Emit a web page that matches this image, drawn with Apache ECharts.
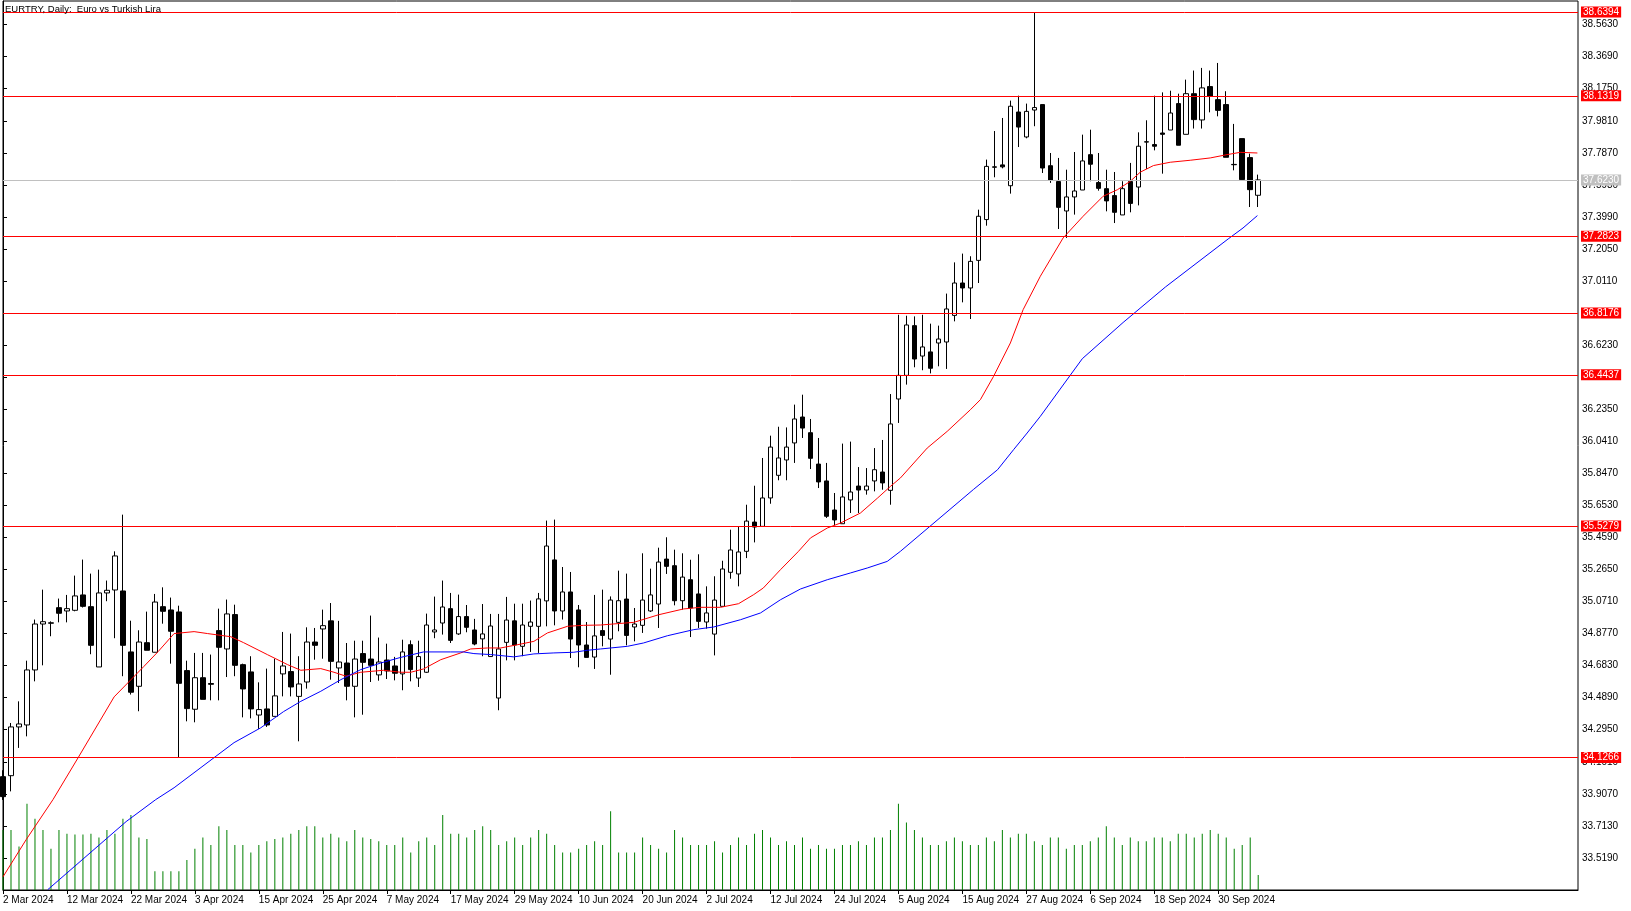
<!DOCTYPE html>
<html><head><meta charset="utf-8">
<script src="https://cdn.jsdelivr.net/npm/echarts@6/dist/echarts.min.js"></script>
<style>html,body{margin:0;padding:0;background:#fff;overflow:hidden}#c{width:1631px;height:911px}</style>
</head><body><div id="c"></div>
<script>
const titleText = 'EURTRY, Daily:  Euro vs Turkish Lira';
const tickLabels = ['2 Mar 2024','12 Mar 2024','22 Mar 2024','3 Apr 2024','15 Apr 2024','25 Apr 2024','7 May 2024','17 May 2024','29 May 2024','10 Jun 2024','20 Jun 2024','2 Jul 2024','12 Jul 2024','24 Jul 2024','5 Aug 2024','15 Aug 2024','27 Aug 2024','6 Sep 2024','18 Sep 2024','30 Sep 2024'];
const barsPerLabel = 8;
const totalSlots = 198;

const opens = [34.011,34.017,34.312,34.324,34.657,34.935,34.942,35.034,35.014,35.018,35.111,35.040,34.675,35.123,35.141,35.135,34.766,34.558,34.822,34.764,35.040,35.020,35.008,34.653,34.419,34.610,34.575,34.895,34.784,34.992,34.689,34.645,34.384,34.421,34.376,34.633,34.647,34.497,34.584,34.826,34.905,34.954,34.669,34.699,34.558,34.756,34.723,34.627,34.717,34.681,34.633,34.810,34.608,34.643,34.887,34.941,35.028,34.875,34.980,34.899,34.845,34.738,34.487,34.824,34.954,34.800,34.921,34.921,35.075,35.323,35.014,35.129,35.020,34.808,34.735,34.895,34.844,34.945,35.086,34.917,34.927,35.014,35.056,35.328,35.288,35.076,35.203,35.117,34.947,34.874,35.042,35.248,35.238,35.375,35.552,35.526,35.698,35.835,35.928,36.031,36.188,36.093,35.903,35.801,35.625,35.542,35.686,35.770,35.746,35.801,35.855,35.744,36.297,36.440,36.741,36.557,36.582,36.636,36.642,36.803,36.999,36.969,37.136,37.383,37.702,37.714,37.588,38.034,37.883,38.046,38.079,37.709,37.613,37.435,37.520,37.562,37.776,37.607,37.570,37.528,37.411,37.613,37.580,37.854,37.837,37.907,37.925,38.085,37.899,38.145,37.986,38.188,38.109,38.079,37.717,37.873,37.758,37.530];
const closes = [33.890,34.312,34.330,34.657,34.935,34.949,34.940,35.000,35.028,35.105,35.042,34.806,35.123,35.139,35.347,34.806,34.522,34.826,34.776,35.068,35.012,34.891,34.576,34.423,34.610,34.479,34.570,34.794,34.996,34.685,34.542,34.421,34.417,34.324,34.500,34.681,34.554,34.572,34.826,34.806,34.925,34.709,34.705,34.558,34.723,34.703,34.685,34.705,34.651,34.637,34.766,34.659,34.738,34.929,34.899,35.038,34.836,34.980,34.915,34.814,34.875,34.923,34.784,34.959,34.808,34.929,34.947,35.087,35.407,35.014,35.129,34.844,34.808,34.733,34.863,34.866,35.080,35.076,34.866,34.935,35.080,35.111,35.310,35.284,35.076,35.219,35.032,34.951,35.002,35.080,35.268,35.383,35.371,35.558,35.522,35.698,36.006,35.940,36.006,36.176,36.121,35.938,35.795,35.587,35.565,35.704,35.734,35.746,35.770,35.869,35.789,36.146,36.440,36.745,36.539,36.612,36.483,36.660,36.842,36.999,36.969,37.130,37.403,37.705,37.700,37.702,38.069,37.943,38.038,38.061,37.695,37.621,37.457,37.520,37.556,37.738,37.718,37.572,37.496,37.427,37.570,37.481,37.827,37.852,37.827,37.899,38.028,37.833,38.145,37.988,38.180,38.129,38.044,37.760,37.715,37.625,37.564,37.623];
const lows = [33.870,33.922,34.185,34.255,34.588,34.685,34.861,34.945,34.945,35.012,35.035,34.752,34.675,35.073,34.849,34.619,34.508,34.407,34.776,34.764,34.937,34.695,34.124,34.346,34.340,34.479,34.473,34.473,34.614,34.619,34.370,34.364,34.300,34.312,34.376,34.497,34.497,34.225,34.544,34.719,34.725,34.598,34.578,34.473,34.370,34.386,34.584,34.592,34.602,34.594,34.534,34.588,34.554,34.639,34.849,34.871,34.820,34.869,34.885,34.806,34.740,34.738,34.413,34.715,34.715,34.740,34.766,34.760,34.921,34.927,34.962,34.729,34.673,34.733,34.663,34.800,34.628,34.891,34.806,34.830,34.881,35.008,34.911,35.238,35.048,35.022,34.856,34.911,34.907,34.745,35.042,35.209,35.163,35.334,35.429,35.526,35.663,35.805,35.805,35.910,36.061,35.873,35.758,35.577,35.532,35.542,35.607,35.607,35.718,35.738,35.748,35.657,36.152,36.384,36.489,36.471,36.452,36.495,36.479,36.767,36.882,36.781,36.999,37.346,37.639,37.693,37.540,37.822,37.875,37.948,37.665,37.605,37.326,37.272,37.413,37.562,37.615,37.558,37.433,37.362,37.411,37.427,37.469,37.689,37.802,37.661,37.925,37.833,37.899,37.934,37.934,38.032,38.008,37.760,37.681,37.625,37.459,37.459];
const highs = [34.050,34.336,34.467,34.713,34.962,35.143,34.951,35.089,35.111,35.228,35.325,35.240,35.264,35.198,35.375,35.597,34.955,34.897,35.010,35.117,35.157,35.095,35.046,34.713,34.760,34.760,34.750,35.028,35.083,35.052,34.695,34.740,34.582,34.665,34.725,34.887,34.877,34.740,34.915,34.911,35.022,35.062,34.954,34.820,34.834,34.834,34.986,34.853,34.816,34.736,34.840,34.836,34.834,34.998,35.101,35.198,35.123,35.113,35.050,34.966,35.056,34.996,34.996,35.099,35.058,35.058,35.077,35.123,35.561,35.567,35.280,35.250,35.050,34.947,35.111,35.143,35.102,35.258,35.240,35.032,35.363,35.270,35.397,35.460,35.385,35.363,35.324,35.357,35.163,35.224,35.318,35.506,35.526,35.657,35.772,35.940,36.075,36.129,36.125,36.263,36.323,36.176,36.061,35.910,35.728,36.027,36.039,35.885,35.879,36.000,36.049,36.327,36.807,36.801,36.797,36.807,36.753,36.741,36.935,37.124,37.177,37.161,37.443,37.746,37.919,37.998,38.103,38.133,38.085,38.6394,38.079,37.786,37.756,37.685,37.792,37.897,37.927,37.786,37.685,37.671,37.615,37.726,37.911,37.984,38.133,38.153,38.163,38.145,38.230,38.285,38.301,38.285,38.331,38.160,37.962,37.873,37.782,37.655];
const volumes = [80,80,58,115,95,80,55,80,75,74,74,75,70,80,75,95,100,70,68,25,25,25,25,40,55,70,60,85,80,60,60,50,60,65,68,70,75,80,85,85,70,75,70,65,80,70,68,65,60,60,70,50,65,70,60,100,75,75,70,80,85,80,60,65,70,60,70,80,75,60,50,50,55,60,65,60,105,50,50,50,70,60,55,50,80,70,60,60,60,65,50,60,70,60,75,80,70,60,65,60,70,55,60,55,55,60,60,65,60,70,70,80,115,90,80,70,60,60,65,70,65,60,60,70,65,80,70,75,75,65,60,70,70,55,60,60,65,70,85,70,60,70,65,65,70,70,65,75,75,70,75,80,75,70,55,60,70,20];
const maRed = [[0,33.405],[2.9,33.630],[6.25,33.872],[9.4,34.126],[13.9,34.494],[17.6,34.677],[19.4,34.768],[21.4,34.877],[23.9,34.889],[25.6,34.877],[28.5,34.858],[30.1,34.822],[33.1,34.749],[35.6,34.689],[37.25,34.655],[39.75,34.665],[41.4,34.643],[42.9,34.619],[44.75,34.643],[47.6,34.655],[49.75,34.643],[51,34.643],[52.6,34.663],[54.75,34.719],[57.25,34.760],[58.5,34.784],[60.6,34.790],[62.25,34.790],[64.4,34.810],[66.4,34.830],[68.1,34.881],[70.6,34.921],[72.6,34.927],[74.75,34.929],[78.9,34.945],[82,34.991],[85.1,35.026],[87.25,35.036],[89.75,35.036],[92,35.058],[93.9,35.113],[95.1,35.153],[97.25,35.264],[99.5,35.375],[101,35.456],[103.1,35.516],[104.75,35.546],[107.25,35.607],[109.4,35.698],[111,35.768],[112.25,35.819],[115.6,36.000],[118.1,36.101],[121,36.232],[122.25,36.293],[123.9,36.434],[126,36.636],[127.6,36.838],[129.75,37.040],[132.6,37.272],[135.1,37.403],[137.6,37.524],[139.4,37.564],[141,37.615],[142.25,37.670],[143.9,37.710],[146,37.730],[148.5,37.742],[151,37.756],[153.1,37.776],[154.75,37.790],[156.9,37.786]];
const maBlue = [[5.6,33.327],[15.4,33.739],[19.1,33.872],[21.4,33.944],[26.4,34.126],[28.9,34.217],[32.25,34.307],[35.1,34.405],[37.25,34.467],[39.75,34.528],[42.25,34.598],[44.75,34.659],[47.25,34.699],[49.75,34.733],[52.6,34.766],[56,34.766],[57.6,34.766],[58.9,34.756],[61,34.750],[63.9,34.736],[66.4,34.754],[68.9,34.760],[71.4,34.764],[73.1,34.776],[74.75,34.784],[78.1,34.800],[80.1,34.820],[83.1,34.864],[86.4,34.901],[88.9,34.917],[92.25,34.961],[94.75,35.002],[97.25,35.082],[99.75,35.147],[103.1,35.203],[106,35.244],[108.1,35.274],[110.6,35.314],[112.25,35.375],[121.4,35.750],[124.4,35.869],[126.4,35.990],[128.1,36.091],[129.75,36.192],[135,36.541],[140.1,36.760],[145.4,36.975],[153.25,37.266],[155.1,37.332],[156.9,37.407]];
const levels = [38.6394, 38.1319, 37.2823, 36.8176, 36.4437, 35.5279, 34.1266];
const bidPrice = 37.6230;
const priceMin = 33.325, priceStep = 0.194, priceMax = 38.706;
const volumeMax = 1185;

const FONT = 'Liberation Sans';
const categories = Array.from({length: totalSlots}, (_, i) => 'b' + i);
const isLabelSlot = (i) => i % barsPerLabel === 0 && (i / barsPerLabel) < tickLabels.length;

const chart = echarts.init(document.getElementById('c'), null, {renderer: 'canvas'});
const candleData = opens.map((o, i) => [o, closes[i], lows[i], highs[i]]);

const levelLines = levels.map(v => ({
  yAxis: v,
  lineStyle: {color: '#ff0000', width: 1, type: 'solid'},
  label: {backgroundColor: '#ff0000'}
}));
levelLines.push({
  yAxis: bidPrice,
  lineStyle: {color: '#c0c0c0', width: 1, type: 'solid'},
  label: {backgroundColor: '#c0c0c0'}
});

chart.setOption({
  animation: false,
  backgroundColor: '#ffffff',
  textStyle: {fontFamily: FONT},
  grid: {left: 2, right: 53, top: 1, bottom: 21, show: true, borderColor: '#000', borderWidth: 1, backgroundColor: '#fff'},
  graphic: [{
    type: 'text', left: 5, top: 4, z: 100,
    style: {text: titleText, fill: '#000', font: '9.5px "' + FONT + '"'}
  }],
  xAxis: [{
    type: 'category', data: categories, boundaryGap: false, gridIndex: 0,
    axisLine: {show: true, lineStyle: {color: '#000', width: 1}},
    axisTick: {show: true, length: 4, interval: (i) => isLabelSlot(i), lineStyle: {color: '#000'}},
    axisLabel: {
      show: true, interval: (i) => isLabelSlot(i), align: 'left', margin: 5,
      color: '#000', fontSize: 10, fontFamily: FONT,
      formatter: (v, i) => isLabelSlot(i) ? tickLabels[i / barsPerLabel] : ''
    },
    splitLine: {show: false}
  }, {
    type: 'value', min: 0, max: totalSlots - 1, show: false, gridIndex: 0
  }],
  yAxis: [{
    type: 'value', position: 'right', min: priceMin, max: priceMax, interval: priceStep, scale: true,
    axisLine: {show: true, lineStyle: {color: '#000', width: 1}},
    axisTick: {show: true, length: 4, lineStyle: {color: '#000'}},
    axisLabel: {show: true, showMinLabel: false, showMaxLabel: false, margin: 4, color: '#000', fontSize: 10, fontFamily: FONT,
      formatter: (v) => v.toFixed(4)},
    splitLine: {show: false}
  }, {
    type: 'value', min: 0, max: volumeMax, show: false
  }],
  series: [{
    type: 'bar', xAxisIndex: 0, yAxisIndex: 1, data: volumes, barWidth: 1,
    itemStyle: {color: '#008000'}, silent: true, z: 1
  }, {
    type: 'candlestick', xAxisIndex: 0, yAxisIndex: 0, data: candleData, barWidth: 5, clip: true, z: 2,
    itemStyle: {color: '#ffffff', color0: '#000000', borderColor: '#000000', borderColor0: '#000000', borderColorDoji: '#000000', borderWidth: 1},
    markLine: {
      silent: true, symbol: ['none', 'none'], animation: false, precision: 4,
      label: {show: true, position: 'end', distance: 3, color: '#fff', fontSize: 10, fontFamily: FONT,
        padding: [1, 2, 0, 2], formatter: (p) => Number(p.value).toFixed(4)},
      data: levelLines
    }
  }, {
    type: 'line', xAxisIndex: 1, yAxisIndex: 0, data: maRed, showSymbol: false, silent: true, z: 3,
    lineStyle: {color: '#ff0000', width: 1}
  }, {
    type: 'line', xAxisIndex: 1, yAxisIndex: 0, data: maBlue, showSymbol: false, silent: true, z: 3,
    lineStyle: {color: '#0000ff', width: 1}
  }]
});
</script>
</body></html>
